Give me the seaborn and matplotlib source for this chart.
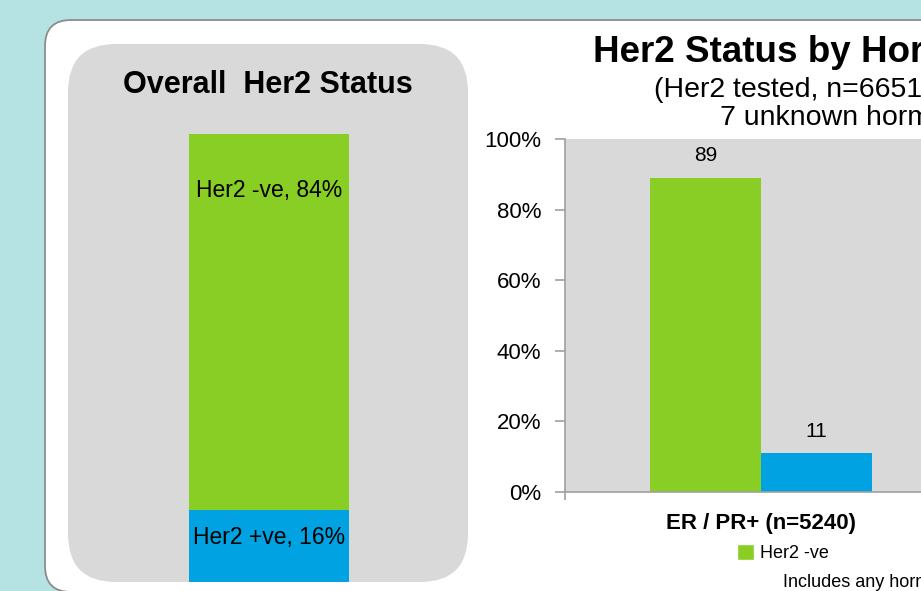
import matplotlib
matplotlib.use("Agg")
import matplotlib.pyplot as plt
import seaborn as sns
import pandas as pd
from matplotlib.patches import FancyBboxPatch, Patch
from matplotlib.ticker import PercentFormatter

# overall Her2 split (%)
overall_labels = ["Her2 -ve", "Her2 +ve"]
overall_pct = [84, 16]

# Her2 status by hormone receptor group (only ER/PR+ is inside the crop)
groups = ["ER / PR+ (n=5240)"]
her2_neg = [89]
her2_pos = [11]
status_labels = ["Her2 -ve", "Her2 +ve"]

GREEN = "#89CE24"
BLUE = "#00A2E2"
PANEL = "#D9D9D9"
BG = "#B5E2E2"
AXGREY = "#A0A0A0"

FONT = ["Liberation Sans", "DejaVu Sans"]

sns.set_theme(style="white")
plt.rcParams["font.family"] = FONT
plt.rcParams["text.color"] = "black"
plt.rcParams["xtick.color"] = "black"
plt.rcParams["ytick.color"] = "black"

W, H = 921, 591
fig = plt.figure(figsize=(W / 100, H / 100), dpi=100, facecolor=BG)


def fx(x):
    return x / W


def fy(y):
    return 1 - y / H


def rbox(x0, y0, x1, y1, r, z, **kw):
    # rounded box in pixel coords (origin top-left)
    p = FancyBboxPatch((x0 / 100, (H - y1) / 100), (x1 - x0) / 100, (y1 - y0) / 100,
                       boxstyle=f"round,pad=0,rounding_size={r / 100}",
                       transform=fig.dpi_scale_trans, zorder=z, **kw)
    fig.patches.append(p)


rbox(45, 20, 980, 592, 26, -3, facecolor="white", edgecolor="#8C8C8C", lw=1.3)
rbox(68, 44, 468, 582, 48, -2, facecolor=PANEL, edgecolor="none")

# ---- left: overall stacked bar
fig.text(fx(268), fy(93), "Overall  Her2 Status", ha="center", va="baseline",
         fontsize=22, fontweight="bold")

axL = fig.add_axes([fx(189), fy(582), (349 - 189) / W, (582 - 134) / H])
axL.patch.set_alpha(0)
df_o = pd.DataFrame({"grp": ["Overall"], "total": [sum(overall_pct)], "pos": [overall_pct[1]]})
sns.barplot(data=df_o, x="grp", y="total", color=GREEN, width=1, saturation=1,
            linewidth=0, ax=axL)
sns.barplot(data=df_o, x="grp", y="pos", color=BLUE, width=1, saturation=1,
            linewidth=0, ax=axL)
axL.set_xlim(-0.5, 0.5)
axL.set_ylim(0, 100)
axL.axis("off")
axL.text(0, sum(overall_pct) - 14, f"{overall_labels[0]}, {overall_pct[0]}%",
         ha="center", va="baseline", fontsize=16.5)
axL.text(0, overall_pct[1] / 2 + 0.5, f"{overall_labels[1]}, {overall_pct[1]}%",
         ha="center", va="baseline", fontsize=16.5)

# ---- right: grouped bars
fig.text(fx(593), fy(62), "Her2 Status by Hormone Receptor Status", ha="left",
         va="baseline", fontsize=26.5, fontweight="bold")
fig.text(fx(654), fy(97), "(Her2 tested, n=6651,", ha="left", va="baseline",
         fontsize=20.5)
fig.text(fx(720), fy(125), "7 unknown hormone status)", ha="left", va="baseline",
         fontsize=20.5)

right_px = 1200
axR = fig.add_axes([fx(565), fy(492), (right_px - 565) / W, (492 - 139) / H], facecolor=PANEL)
df = pd.DataFrame({
    "group": groups * 2,
    "status": [status_labels[0]] * len(groups) + [status_labels[1]] * len(groups),
    "pct": her2_neg + her2_pos,
})
sns.barplot(data=df, x="group", y="pct", hue="status", palette=[GREEN, BLUE],
            saturation=1, width=0.8, linewidth=0, legend=False, ax=axR)
for c in axR.containers:
    axR.bar_label(c, fontsize=15, padding=9)

xl = -0.706
axR.set_xlim(xl, (right_px - 761) / 277.5)
axR.set_ylim(0, 100)
axR.set_yticks(range(0, 101, 20))
axR.yaxis.set_major_formatter(PercentFormatter(100, decimals=0))
axR.set_xlabel("")
axR.set_ylabel("")
axR.set_xticks(range(len(groups)))
axR.set_xticklabels(groups, fontweight="bold", fontsize=16)
axR.set_xticks([xl], minor=True)
axR.tick_params(axis="y", labelsize=16, length=7, width=1.2, color=AXGREY,
                direction="out", pad=10, left=True)
axR.tick_params(axis="x", which="major", length=0, pad=15)
axR.tick_params(axis="x", which="minor", length=6, width=1.2, color=AXGREY,
                direction="out", bottom=True)
for s in ["top", "right"]:
    axR.spines[s].set_visible(False)
for s in ["left", "bottom"]:
    axR.spines[s].set_color(AXGREY)
    axR.spines[s].set_linewidth(1.2)

handles = [Patch(facecolor=GREEN), Patch(facecolor=BLUE)]
fig.legend(handles, status_labels, loc="upper left", bbox_to_anchor=(fx(737), fy(544)),
           frameon=False, ncol=2, columnspacing=8, handlelength=0.95, handleheight=0.95,
           handletextpad=0.3, borderpad=0, borderaxespad=0, fontsize=13)

fig.text(fx(783), fy(587), "Includes any hormone receptor positive", ha="left",
         va="baseline", fontsize=13)

fig.savefig("out.png", dpi=100, facecolor=BG)
